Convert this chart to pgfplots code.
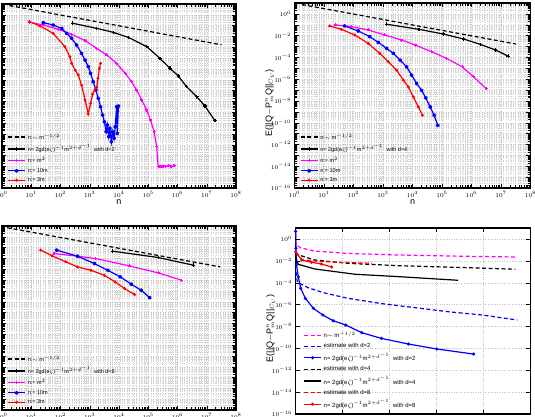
\documentclass[border=0pt]{standalone}
\usepackage{pgfplots}
\pgfplotsset{compat=1.18}
\usepackage{fontspec}
\setmainfont{Liberation Sans}
\definecolor{mag}{rgb}{1,0,1}
\pgfplotsset{
  myax/.style={scale only axis, anchor=north west,
    major grid style={dotted, gray!50, line width=0.35pt},
    minor grid style={dotted, gray!32, line width=0.3pt},
    axis line style={line width=1.1pt},
    tick style={black, line width=0.4pt},
    ticklabel style={font=\fontsize{6.5}{7}\selectfont},
    label style={font=\fontsize{9}{10}\selectfont},
    legend cell align=left,
    legend style={draw=none, fill=none, font=\fontsize{5.5}{6.5}\selectfont,
      at={(0.01,0.005)}, anchor=south west},
    xlabel style={at={(axis description cs:0.5,-0.076)}, anchor=center},
    ylabel style={at={(axis description cs:-0.105,0.46)}, anchor=center},
  },
  logax/.style={myax, grid=both, xmin=1, xmax=1e8, ymin=1e-16, ymax=10,
    xtick={1,10,100,1000,1e4,1e5,1e6,1e7,1e8},
    ytick={1e-16,1e-15,1e-14,1e-13,1e-12,1e-11,1e-10,1e-9,1e-8,1e-7,1e-6,1e-5,1e-4,1e-3,1e-2,1e-1,1,10},
    yticklabels={$10^{-16}$,,$10^{-14}$,,$10^{-12}$,,$10^{-10}$,,$10^{-8}$,,$10^{-6}$,,$10^{-4}$,,$10^{-2}$,,$10^{0}$,},
    xlabel={n}, ylabel={E(||Q$-$P$^{n}_{m}$Q||$_{C_V}$)}},
  dsh/.style={line width=1.2pt, dash pattern=on 4pt off 2.5pt},
  sblack/.style={black, line width=1.2pt, mark=+, mark size=1.8pt, mark options={solid}},
  smag/.style={mag, line width=1.2pt, mark=+, mark size=1.5pt, mark options={solid}},
  sblue/.style={blue, line width=1.2pt, mark=asterisk, mark size=1.8pt, mark options={solid}},
  sred/.style={red, line width=1.2pt, mark=*, mark size=0.8pt, mark options={solid}},
}
\begin{document}
\begin{tikzpicture}[x=1pt,y=1pt]
% ---------------- top left: d=2 ----------------
\begin{loglogaxis}[logax, at={(2pt,412pt)}, width=234pt, height=184pt]
\addplot[black, dsh] coordinates {(1.8,7.2) (3.2e7,1.7e-3)};
\addlegendentry{n:$\sim$ m$^{-1/2}$}
\addplot[sblack] coordinates {(263,0.166) (1738,0.0562) (6457,0.024) (2.09e4,8.3e-3) (8.9e4,1.15e-3) (2.51e5,9.5e-5) (5.5e5,1.15e-5) (1.07e6,2.24e-6) (2.04e6,2.29e-7) (4.57e6,2.69e-8) (8.7e6,3.7e-9) (1.9e7,1.66e-10)};
\addlegendentry{n= 2gd(e$\zeta$)$^{-1}$m$^{2+d^{-1}}$ \ with d=2}
\addplot[smag] coordinates {(8.6,0.204) (25.7,0.115) (85,0.0457) (240,0.0158) (692,4.07e-3) (1738,7.9e-4) (3802,1.95e-4) (8318,3.3e-5) (1.62e4,3.9e-6) (2.69e4,6.6e-7) (3.98e4,1.12e-7) (6.03e4,1.35e-8) (8.9e4,1.58e-9) (1.2e5,1.9e-10) (1.58e5,1.58e-11) (1.95e5,6.5e-13) (2.19e5,9.1e-15) (2.51e5,1.05e-14) (2.82e5,8.9e-15) (3.31e5,1.07e-14) (3.98e5,9.5e-15) (4.9e5,1.1e-14) (6.0e5,9.3e-15) (7.6e5,1.12e-14)};
\addlegendentry{n:= m$^{2}$}
\addplot[sblue] coordinates {(25.7,0.19) (56,0.115) (110,0.056) (162,0.0195) (240,6.8e-3) (355,1.62e-3) (525,2.75e-4) (692,6.6e-5) (891,1.62e-5) (1072,3.9e-6) (1318,6.6e-7) (1622,1.12e-7) (1950,1.9e-8) (2344,3.2e-9) (2754,5.5e-10) (3162,1.32e-10) (3631,1.58e-11) (3981,6.6e-11) (4467,5.5e-12) (4898,3.2e-11) (5495,1.86e-12) (6026,1.58e-11) (6761,3.9e-12) (7413,4.6e-11) (8318,3.2e-9) (8710,1.12e-11) (9550,3.7e-9)};
\addlegendentry{n:= 10m}
\addplot[sred] coordinates {(8.6,0.234) (20,0.093) (56,0.0195) (141,1.15e-3) (209,1.35e-4) (240,3.3e-5) (316,7.9e-6) (407,2.75e-6) (525,3.2e-7) (692,1.35e-8) (891,6.8e-10) (1072,6.6e-9) (1259,4.8e-8) (1514,1.29e-7) (1738,2.0e-7) (1905,1.35e-6) (2138,1.15e-5) (2344,3.3e-5)};
\addlegendentry{n:= 3m}
\end{loglogaxis}
% ---------------- top right: d=4 ----------------
\begin{loglogaxis}[logax, at={(294.5pt,413pt)}, width=236pt, height=185pt]
\addplot[black, dsh] coordinates {(1.8,7.2) (3.2e7,1.7e-3)};
\addlegendentry{n:$\sim$ m$^{-1/2}$}
\addplot[sblack] coordinates {(1318,0.112) (1.66e4,0.038) (1.12e5,0.0141) (5.4e5,4.9e-3) (2.0e6,1.58e-3) (6.5e6,4.8e-4) (1.74e7,1.32e-4)};
\addlegendentry{n= 2gd(e$\zeta$)$^{-1}$m$^{2+d^{-1}}$ \ with d=4}
\addplot[smag] coordinates {(24,0.0955) (85,0.0676) (316,0.0331) (1148,0.0115) (4266,3.98e-3) (1.23e4,1.38e-3) (4.47e4,3.3e-4) (1.45e5,8.1e-5) (4.8e5,1.38e-5) (1.17e6,1.66e-6) (3.1e6,1.38e-7)};
\addlegendentry{n:= m$^{2}$}
\addplot[sblue] coordinates {(50,0.078) (145,0.0269) (355,8.1e-3) (692,2.4e-3) (1318,6.8e-4) (2239,2.34e-4) (3802,5.6e-5) (6310,1.38e-5) (9333,2.34e-6) (1.38e4,4.0e-7) (2.04e4,9.5e-8) (2.82e4,1.9e-8) (3.98e4,2.8e-9) (5.4e4,4.8e-10) (7.2e4,5.6e-11)};
\addlegendentry{n:= 10m}
\addplot[sred] coordinates {(15.5,0.078) (39,0.038) (110,0.0115) (316,1.95e-3) (776,2.34e-4) (1514,4.0e-5) (2884,6.8e-6) (4898,8.1e-7) (7244,1.95e-7) (1.07e4,2.34e-8) (1.58e4,2.8e-9) (2.19e4,4.8e-10)};
\addlegendentry{n:= 3m}
\end{loglogaxis}
% ---------------- bottom left: d=8 ----------------
\begin{loglogaxis}[logax, at={(2pt,190pt)}, width=234pt, height=184pt]
\addplot[black, dsh] coordinates {(1.5,7.0) (2.9e7,1.66e-3)};
\addlegendentry{n:$\sim$ m$^{-1/2}$}
\addplot[sblack] coordinates {(6166,0.0468) (2.19e5,0.0123) (3.47e6,2.4e-3)};
\addlegendentry{n= 2gd(e$\zeta$)$^{-1}$m$^{2+d^{-1}}$ \ with d=8}
\addplot[smag] coordinates {(60,0.0288) (380,0.0162) (1622,9.8e-3) (2.29e4,2.04e-3) (2.19e5,4.7e-4) (1.38e6,9.8e-5)};
\addlegendentry{n:= m$^{2}$}
\addplot[sblue] coordinates {(74,0.059) (380,0.0162) (1445,3.4e-3) (4169,8.1e-4) (1.1e4,2.0e-4) (2.63e4,4.2e-5) (5.75e4,1.15e-5) (1.12e5,2.4e-6)};
\addlegendentry{n:= 10m}
\addplot[sred] coordinates {(21,0.059) (52,0.0174) (151,4.9e-3) (380,1.66e-3) (1096,8.1e-4) (3162,2.8e-4) (7413,6.8e-5) (1.55e4,1.66e-5) (3.39e4,4.6e-6)};
\addlegendentry{n:= 3m}
\end{loglogaxis}
% ---------------- bottom right: estimates ----------------
\begin{semilogyaxis}[myax, at={(295.5pt,188pt)}, width=235pt, height=186pt,
  grid=major, xmin=0, xmax=5, ymin=1e-16, ymax=10,
  xtick={0,1,2,3,4,5}, xticklabels={},
  ytick={1e-16,1e-14,1e-12,1e-10,1e-8,1e-6,1e-4,1e-2,1},
  yticklabels={$10^{-16}$,$10^{-14}$,$10^{-12}$,$10^{-10}$,$10^{-8}$,$10^{-6}$,$10^{-4}$,$10^{-2}$,$10^{0}$},
  ylabel={E(||Q$-$P$^{n}_{m}$Q||$_{C_V}$)},
  legend style={font=\fontsize{6}{7}\selectfont, at={(0.02,0.005)}, anchor=south west}]
\addplot[mag, dsh] coordinates {(0.003,3.0) (0.01,0.316) (0.1,0.158) (0.4,0.079) (1.1,0.048) (2.2,0.034) (3.6,0.026) (4.72,0.0224)};
\addlegendentry{n$\sim$ m$^{-1/2}$}
\addplot[blue, dsh] coordinates {(0.01,1e-3) (0.04,1.1e-4) (0.27,3.5e-5) (0.59,1.23e-5) (1.12,3.7e-6) (1.83,1.23e-6) (2.55,5.2e-7) (3.26,2.2e-7) (3.97,1.12e-7) (4.72,3.9e-8)};
\addlegendentry{estimate with d=2}
\addplot[blue, line width=1.2pt, mark=*, mark size=0.9pt] coordinates {(0.003,5) (0.01,0.141) (0.02,4.2e-3) (0.06,3.5e-4) (0.11,3.1e-5) (0.21,3.7e-6) (0.38,4.6e-7) (0.58,1.12e-7) (0.80,3.4e-8) (1.07,1.35e-8) (1.41,2.7e-9) (1.83,8.1e-10) (2.40,2.5e-10) (3.01,8.7e-11) (3.79,3.0e-11)};
\addlegendentry{n= 2gd(e$\zeta$)$^{-1}$m$^{2+d^{-1}}$ \ with d=2}
\addplot[black, dsh] coordinates {(0.005,0.06) (0.06,0.0347) (0.41,0.012) (1.12,5.9e-3) (2.19,3.6e-3) (3.61,2.4e-3) (4.68,1.7e-3)};
\addlegendentry{estimate with d=4}
\addplot[black, line width=1.2pt] coordinates {(0.003,0.03) (0.01,0.017) (0.06,4.8e-3) (0.41,1.8e-3) (1.27,5.9e-4) (2.19,3.6e-4) (3.46,1.66e-4)};
\addlegendentry{n= 2gd(e$\zeta$)$^{-1}$m$^{2+d^{-1}}$ \ with d=4}
\addplot[red, dsh] coordinates {(0.02,0.05) (0.15,0.0126) (0.5,8.9e-3) (1.0,7.1e-3) (1.63,6.0e-3)};
\addlegendentry{estimate with d=8}
\addplot[red, line width=1.2pt, mark=*, mark size=0.9pt] coordinates {(0.003,0.069) (0.13,0.012) (0.34,7.4e-3) (0.55,5.1e-3) (0.77,2.75e-3)};
\addlegendentry{n= 2gd(e$\zeta$)$^{-1}$m$^{2+d^{-1}}$ \ with d=8}
\end{semilogyaxis}
\pgfresetboundingbox
\path[use as bounding box] (0,0) rectangle (535,416);
\end{tikzpicture}
\end{document}
